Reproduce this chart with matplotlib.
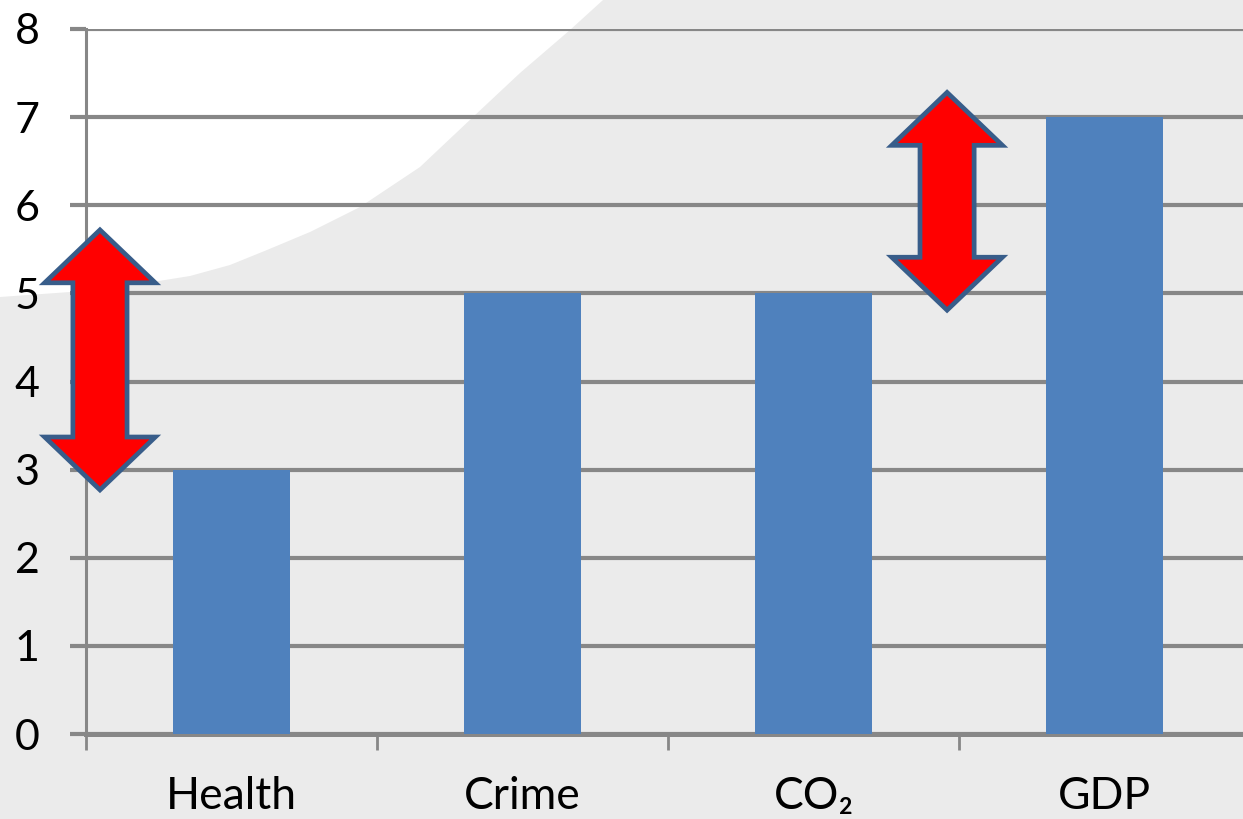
import numpy as np
import matplotlib.pyplot as plt
from matplotlib.patches import Polygon

plt.rcParams['font.family'] = ['Lato', 'DejaVu Sans']

categories = ['Health', 'Crime', 'CO₂', 'GDP']
values = [3, 5, 5, 7]

# double arrows drawn over the chart (x position, lower tip, upper tip)
arrow_x = [-0.452, 2.459]
arrow_lo = [2.77, 4.81]
arrow_hi = [5.72, 7.28]

bar_color = '#4F81BD'
grid_color = '#878787'

fig = plt.figure(figsize=(12.43, 8.19), dpi=100)
fig.patch.set_facecolor('#EBEBEB')

# white curved area in the top-left corner of the background (pixel outline)
cx = np.array([0, 70, 140, 190, 230, 267, 310, 360, 420, 473, 520, 570, 603, 0]) / 1243
cy = 1 - np.array([297, 292, 284, 276, 265, 250, 232, 207, 167, 117, 73, 30, 0, 0]) / 819
fig.patches.append(Polygon(np.column_stack([cx, cy]), closed=True,
                           transform=fig.transFigure, facecolor='white',
                           edgecolor='none', zorder=-10))

ax = fig.add_axes([86 / 1243, 1 - 734 / 819, (1250 - 86) / 1243, (734 - 29) / 819])
ax.set_facecolor('none')

x = np.arange(len(categories))
ax.bar(x, values, width=0.4, color=bar_color, zorder=3)

ax.set_xlim(-0.5, 3.5)
ax.set_ylim(0, 8)
ax.set_yticks(range(0, 9))
ax.yaxis.grid(True, color=grid_color, linewidth=3.0, zorder=1)
ax.set_axisbelow(True)

ax.set_xticks(x)
ax.set_xticklabels(categories)
ax.set_xticks(np.arange(-0.5, 4, 1), minor=True)
ax.tick_params(axis='x', which='major', length=0, pad=30, labelsize=32)
ax.tick_params(axis='x', which='minor', length=11.5, width=2, color=grid_color)
ax.tick_params(axis='y', length=11.5, width=3.0, color=grid_color, pad=22, labelsize=31)

for s in ['top', 'right']:
    ax.spines[s].set_visible(False)
ax.spines['left'].set_color(grid_color)
ax.spines['left'].set_linewidth(2.2)
ax.spines['bottom'].set_color(grid_color)
ax.spines['bottom'].set_linewidth(3.6)

# double-headed block arrows
head_w = 0.19
shaft_w = 0.093
head_len = 0.6
for xc, lo, hi in zip(arrow_x, arrow_lo, arrow_hi):
    verts = [
        (xc, hi),
        (xc + head_w, hi - head_len),
        (xc + shaft_w, hi - head_len),
        (xc + shaft_w, lo + head_len),
        (xc + head_w, lo + head_len),
        (xc, lo),
        (xc - head_w, lo + head_len),
        (xc - shaft_w, lo + head_len),
        (xc - shaft_w, hi - head_len),
        (xc - head_w, hi - head_len),
    ]
    ax.add_patch(Polygon(verts, closed=True, facecolor='#FF0000',
                         edgecolor='#385D8A', linewidth=3.4, zorder=5,
                         clip_on=False, joinstyle='miter'))

fig.savefig('out.png', dpi=100, facecolor=fig.get_facecolor())
